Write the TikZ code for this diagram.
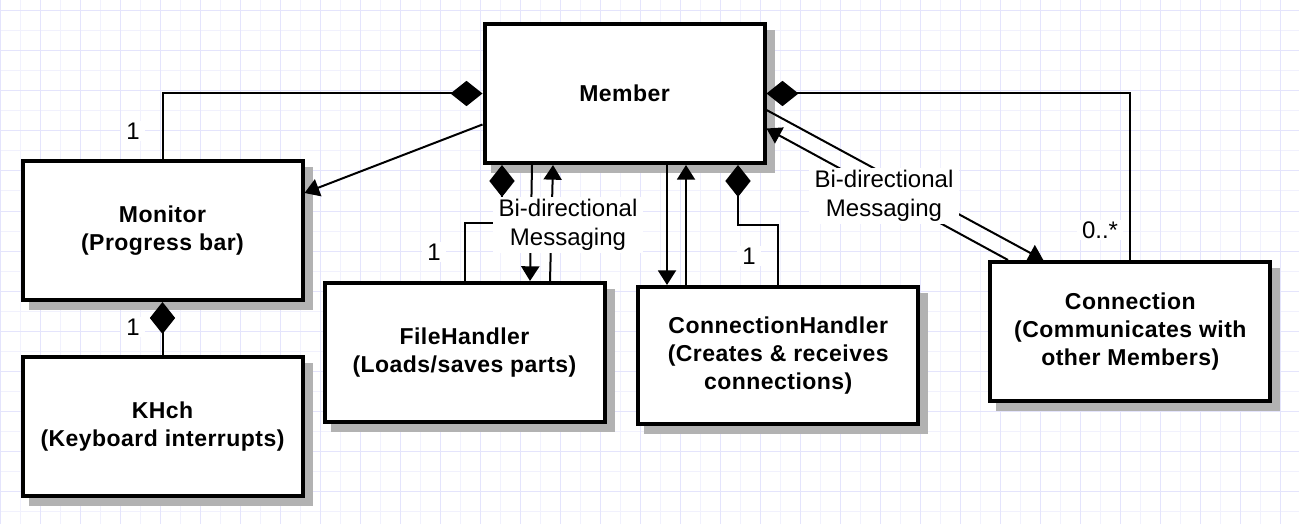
\documentclass[tikz,border=0pt]{standalone}
\usepackage{fontspec}
\setmainfont{Liberation Sans}
\newfontfamily\boxfont{Liberation Sans}[LetterSpace=2]
\usetikzlibrary{arrows.meta}
\newdimen\pxu \pxu=0.75pt
\definecolor{gridA}{RGB}{228,228,252}
\definecolor{gridB}{RGB}{241,241,253}
\definecolor{shadowgray}{RGB}{178,178,178}
\tikzset{
  umlbox/.style={draw, line width=3pt, fill=white, minimum width=210pt, minimum height=104.25pt,
    align=center, inner sep=0pt, font=\boxfont\bfseries\fontsize{17.25}{21}\selectfont,
    preaction={draw=shadowgray, fill=shadowgray, transform canvas={shift={(6pt,-6pt)}}}},
  wire/.style={line width=1.5pt, black},
  arr/.style={-{Triangle[length=11pt,width=13.5pt]}},
  comp/.style={-{Diamond[length=24pt,width=19pt]}},
  lbl/.style={fill=white, inner xsep=4pt, inner ysep=1.5pt, align=center, font=\fontsize{18}{21.5}\selectfont},
}
\begin{document}
\begin{tikzpicture}[x=0.75pt,y=-0.75pt]
\useasboundingbox (0,0) rectangle (1299,524);
\fill[white] (0,0) rectangle (1299,524);
\foreach \gx in {20,60,...,1299} \draw[gridB, line width=0.75pt] (\gx,0) -- (\gx,524);
\foreach \gy in {31,71,...,524} \draw[gridB, line width=0.75pt] (0,\gy) -- (1299,\gy);
\foreach \gx in {0,40,...,1299} \draw[gridA, line width=0.75pt] (\gx,0) -- (\gx,524);
\foreach \gy in {11,51,...,524} \draw[gridA, line width=0.75pt] (0,\gy) -- (1299,\gy);

% boxes
\node[umlbox] (member) at (624.5,93.5) {Member};
\node[umlbox] (monitor) at (162.5,230.5) {Monitor\\(Progress bar)};
\node[umlbox] (khch) at (162.5,426.5) {KHch\\(Keyboard interrupts)};
\node[umlbox] (fh) at (464.5,352.5) {FileHandler\\(Loads/saves parts)};
\node[umlbox, minimum height=102.75pt] (ch) at (778.2,355.5) {ConnectionHandler\\(Creates \& receives\\connections)};
\node[umlbox] (conn) at (1130.3,331.5) {Connection\\(Communicates with\\other Members)};

% Monitor
\draw[wire, comp] (monitor.north) |- (member.west);
\draw[wire, arr] ([yshift=-31\pxu]member.west) -- ([yshift=37.5\pxu]monitor.east);
\draw[wire, comp] (khch.north) -- (monitor.south);

% FileHandler
\draw[wire, comp] (fh.north) -- ++(0,-58) -| ([xshift=-122.5\pxu]member.south);
\draw[wire, arr] ([xshift=-92.5\pxu]member.south) -- ([xshift=65.5\pxu]fh.north);
\draw[wire, arr] ([xshift=85.5\pxu]fh.north) -- ([xshift=-71.5\pxu]member.south);

% ConnectionHandler
\draw[wire, arr] ([xshift=42.5\pxu]member.south) -- ([xshift=-111.2\pxu]ch.north);
\draw[wire, arr] ([xshift=-92.2\pxu]ch.north) -- ([xshift=61.5\pxu]member.south);
\draw[wire, comp] (ch.north) -- ++(0,-60) -| ([xshift=113.5\pxu]member.south);

% Connection
\draw[wire, comp] (conn.north) |- (member.east);
\draw[wire, arr] ([yshift=-16.5\pxu]member.east) -- ([xshift=-87\pxu]conn.north);
\draw[wire, arr] ([xshift=-122.3\pxu]conn.north) -- ([yshift=-35\pxu]member.east);

% labels
\node[lbl] (m1) at (133,131) {1};
\node[lbl] (m2) at (133,327) {1};
\node[lbl] (m3) at (434,252) {1};
\node[lbl] (m4) at (749,256) {1};
\node[lbl] (m5) at (1100,230) {0..*};
\node[lbl] (bd1) at (568,225) {Bi-directional\\Messaging};
\node[lbl] (bd2) at (884,196) {Bi-directional\\Messaging};
\end{tikzpicture}
\end{document}
